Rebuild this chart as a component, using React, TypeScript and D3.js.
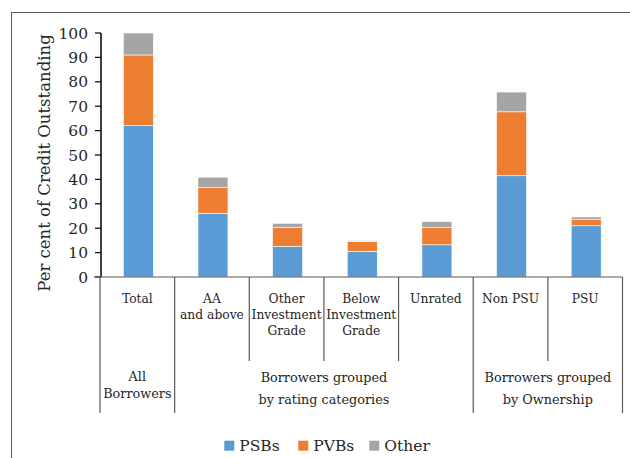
import React from "react";
import * as d3 from "d3";

const categories = ["Total", "AA and above", "Other Investment Grade", "Below Investment Grade", "Unrated", "Non PSU", "PSU"];
const categoryLines = [["Total"], ["AA", "and above"], ["Other", "Investment", "Grade"], ["Below", "Investment", "Grade"], ["Unrated"], ["Non PSU"], ["PSU"]];
const psbs = [62, 26.1, 12.6, 10.5, 13.2, 41.5, 21.0];
const pvbs = [29, 10.5, 7.8, 4.1, 7.0, 26.2, 2.5];
const other = [9, 4.3, 1.6, 0.3, 2.5, 8.1, 1.1];
const seriesNames = ["PSBs", "PVBs", "Other"];
const seriesColors = ["#5B9BD5", "#ED7D31", "#A5A5A5"];
const groups = [
  { lines: ["All", "Borrowers"], start: 0, end: 1 },
  { lines: ["Borrowers grouped", "by rating categories"], start: 1, end: 5 },
  { lines: ["Borrowers grouped", "by Ownership"], start: 5, end: 7 },
];
const yTicks = [0, 10, 20, 30, 40, 50, 60, 70, 80, 90, 100];

const W = 630, H = 458;
const plotLeft = 100, plotRight = 622.5, plotTop = 33, plotBottom = 277;
const FONT = "'DejaVu Serif', serif";

export default function App() {
  const x = d3.scaleBand<string>().domain(categories).range([plotLeft, plotRight]).paddingInner(0).paddingOuter(0);
  const y = d3.scaleLinear().domain([0, 100]).range([plotBottom, plotTop]);
  const barW = 30;
  const table = categories.map((c, i) => ({ cat: c, PSBs: psbs[i], PVBs: pvbs[i], Other: other[i] }));
  const stack = d3.stack<any>().keys(seriesNames)(table);
  const step = x.step();
  const boundary = (i: number) => plotLeft + i * step;
  const longB = new Set([0, 1, 5, 7]);

  return (
    <svg width={W} height={H} style={{ position: "absolute", left: 0, top: 0, background: "#fff" }} fontFamily={FONT}>
      <rect x={11.5} y={12.5} width={W + 20} height={H + 20} fill="#fff" stroke="#595959" strokeWidth={1} />
      {stack.map((s, si) =>
        s.map((d, i) => (
          <rect
            key={si + "-" + i}
            x={(x(categories[i]) as number) + (step - barW) / 2 + 1}
            y={y(d[1])}
            width={barW}
            height={Math.max(0, y(d[0]) - y(d[1]))}
            fill={seriesColors[si]}
            stroke="#fff"
            strokeWidth={0.6}
          />
        ))
      )}
      <line x1={101} x2={101} y1={y(100)} y2={y(0)} stroke="#000" strokeWidth={1.5} />
      {yTicks.map((t) => (
        <g key={t}>
          <line x1={95} x2={101} y1={y(t)} y2={y(t)} stroke="#000" strokeWidth={1.2} />
          <text x={88} y={y(t)} dy="0.36em" textAnchor="end" fontSize={15.5} fill="#262626">{t}</text>
        </g>
      ))}
      <text transform={`translate(44,${(plotTop + plotBottom) / 2 + 8}) rotate(-90)`} textAnchor="middle" dy="0.35em" fontSize={16.5} fill="#262626">
        Per cent of Credit Outstanding
      </text>
      <line x1={94} x2={plotRight} y1={plotBottom} y2={plotBottom} stroke="#595959" strokeWidth={1.2} />
      {d3.range(categories.length + 1).map((i) => (
        <line key={i} x1={boundary(i)} x2={boundary(i)} y1={plotBottom} y2={longB.has(i) ? 413 : 361} stroke="#595959" strokeWidth={1.2} />
      ))}
      {categoryLines.map((lines, i) => (
        <text key={i} textAnchor="middle" fontSize={12.3} fill="#262626">
          {lines.map((l, k) => (
            <tspan key={k} x={(x(categories[i]) as number) + step / 2} y={298.5 + k * 16} dy="0.35em">{l}</tspan>
          ))}
        </text>
      ))}
      {groups.map((g, gi) => (
        <text key={gi} textAnchor="middle" fontSize={12.8} fill="#262626">
          {g.lines.map((l, k) => (
            <tspan key={k} x={(boundary(g.start) + boundary(g.end)) / 2} y={(gi === 0 ? 377 : 377.5) + k * (gi === 0 ? 16.5 : 22.5)} dy="0.35em">{l}</tspan>
          ))}
        </text>
      ))}
      {seriesNames.map((n, i) => {
        const lx = [224.3, 298.3, 369.3][i];
        return (
          <g key={n}>
            <rect x={lx} y={440.7} width={10} height={10} fill={seriesColors[i]} />
            <text x={lx + 15} y={446} dy="0.35em" fontSize={15.5} fill="#262626">{n}</text>
          </g>
        );
      })}
    </svg>
  );
}
